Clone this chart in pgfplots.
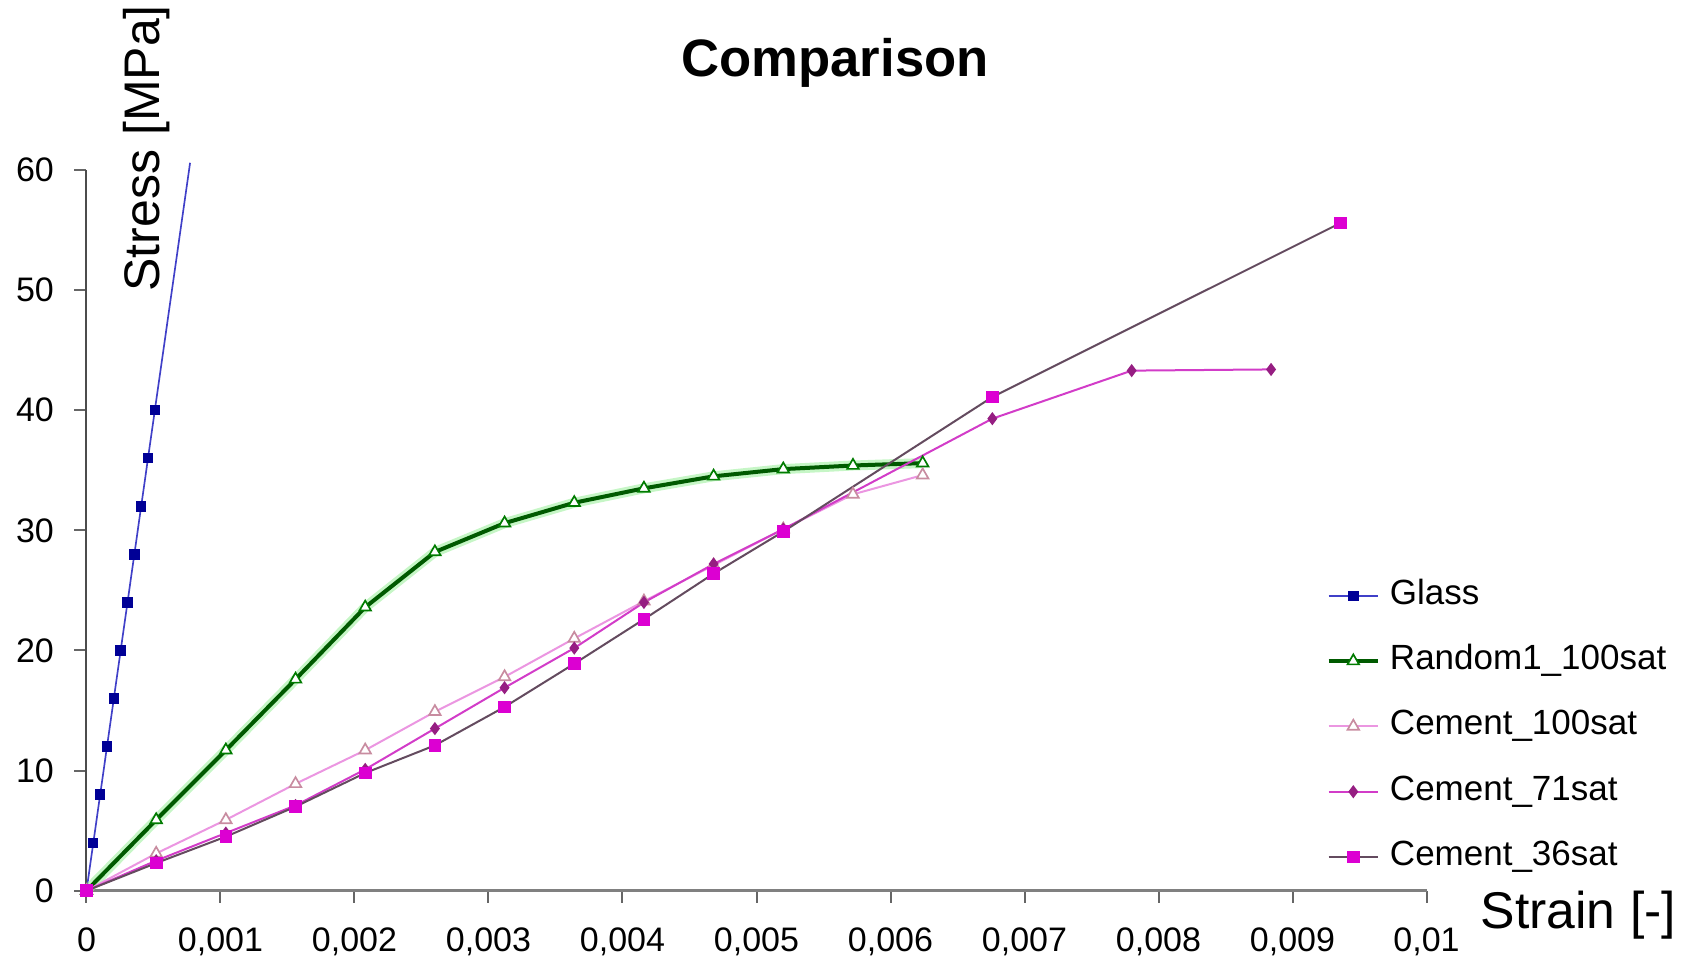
\documentclass[border=0pt]{standalone}
\usepackage{fontspec}
\setmainfont{Liberation Sans}
\usepackage{pgfplots}
\pgfplotsset{compat=1.18}
\definecolor{glassline}{RGB}{64,64,200}
\definecolor{glassmark}{RGB}{0,0,150}
\definecolor{randline}{RGB}{0,90,0}
\definecolor{randhalo}{RGB}{160,240,160}
\definecolor{chundredline}{RGB}{235,150,225}
\definecolor{chundredmark}{RGB}{200,140,160}
\definecolor{cseventyline}{RGB}{210,60,200}
\definecolor{cseventymark}{RGB}{150,30,130}
\definecolor{cthirtyline}{RGB}{100,75,95}
\definecolor{cthirtymark}{RGB}{220,0,210}
\begin{document}
\begin{tikzpicture}
\path[use as bounding box] (-25.95pt,-20.49pt) rectangle (483.15pt,267.21pt);
\begin{axis}[
  scale only axis, width=402pt, height=216.21pt,
  xmin=0, xmax=0.01, ymin=0, ymax=60,
  axis x line*=bottom, axis y line*=left,
  axis line style={-},
  x axis line style={draw=black!50, line width=0.9pt},
  y axis line style={draw=black!70, line width=0.6pt},
  clip=false,
  xtick={0,0.001,0.002,0.003,0.004,0.005,0.006,0.007,0.008,0.009,0.01},
  xticklabels={0,{0,001},{0,002},{0,003},{0,004},{0,005},{0,006},{0,007},{0,008},{0,009},{0,01}},
  ytick={0,10,20,30,40,50,60},
  scaled x ticks=false,
  tick align=outside, major tick length=3.6pt,
  tick style={draw=black!60, line width=0.6pt},
  /pgf/number format/assume math mode=true,
  ticklabel style={font=\fontsize{10.2}{11}\selectfont, inner sep=0pt},
  xticklabel style={anchor=north, yshift=-7.3pt},
  yticklabel style={anchor=east, xshift=-6pt},
  legend cell align=left,
  legend image code/.code={\draw[mark repeat=2,mark phase=2] plot coordinates {(0cm,0cm) (0.26cm,0cm) (0.52cm,0cm)};},
  legend style={at={(axis cs:0.009255,25.81)}, anchor=north west, draw=none, fill=none, inner sep=0pt, outer sep=0pt,
    row sep=10.6pt, column sep=3pt,
    nodes={inner sep=0pt, text height=7pt, text depth=2pt, font=\fontsize{10.5}{11}\selectfont}},
]
% Glass
\addplot[color=glassline, line width=0.5pt, mark=square*, mark size=1.3pt, mark options={fill=glassmark, draw=glassmark}]
  coordinates {(0,0) (0.000051,4) (0.000102,8) (0.000153,12) (0.000204,16) (0.000255,20) (0.000306,24) (0.000357,28) (0.000408,32) (0.000459,36) (0.00051,40)};
\addlegendentry{Glass}
\addplot[forget plot, color=glassline, line width=0.5pt] coordinates {(0.00051,40) (0.000773,60.6)};
% Random halo
\addplot[forget plot, color=randhalo, line width=3pt, opacity=0.6]
  coordinates {(0,0) (0.00052,5.9) (0.00104,11.7) (0.00156,17.6) (0.00208,23.6) (0.0026,28.2) (0.00312,30.6) (0.00364,32.3) (0.00416,33.5) (0.00468,34.5) (0.0052,35.1) (0.00572,35.4) (0.00624,35.6)};
\addplot[color=randline, line width=1.2pt, mark=triangle*, mark size=2pt, mark options={fill=white, draw=randline!80!green, line width=0.5pt}]
  coordinates {(0,0) (0.00052,5.9) (0.00104,11.7) (0.00156,17.6) (0.00208,23.6) (0.0026,28.2) (0.00312,30.6) (0.00364,32.3) (0.00416,33.5) (0.00468,34.5) (0.0052,35.1) (0.00572,35.4) (0.00624,35.6)};
\addlegendentry{Random1\_100sat}
% Cement 100
\addplot[color=chundredline, line width=0.6pt, mark=triangle*, mark size=2pt, mark options={fill=white, draw=chundredmark, line width=0.5pt}]
  coordinates {(0,0) (0.00052,3.1) (0.00104,5.9) (0.00156,8.9) (0.00208,11.7) (0.0026,14.9) (0.00312,17.8) (0.00364,21.0) (0.00416,24.1) (0.00468,27.1) (0.0052,30.1) (0.00572,33.0) (0.00624,34.6)};
\addlegendentry{Cement\_100sat}
% Cement 71
\addplot[color=cseventyline, line width=0.6pt, mark=diamond*, mark size=1.5pt, mark options={fill=cseventymark, draw=cseventymark}]
  coordinates {(0,0) (0.00052,2.5) (0.00104,4.8) (0.00156,7.1) (0.00208,10.1) (0.0026,13.5) (0.00312,16.9) (0.00364,20.2) (0.00416,24.0) (0.00468,27.2) (0.0052,30.1) (0.00676,39.3) (0.0078,43.3) (0.00884,43.4)};
\addlegendentry{Cement\_71sat}
% Cement 36
\addplot[color=cthirtyline, line width=0.6pt, mark=square*, mark size=1.6pt, mark options={fill=cthirtymark, draw=cthirtymark}]
  coordinates {(0,0) (0.00052,2.3) (0.00104,4.5) (0.00156,7.0) (0.00208,9.8) (0.0026,12.1) (0.00312,15.3) (0.00364,18.9) (0.00416,22.6) (0.00468,26.4) (0.0052,29.9) (0.00676,41.1) (0.00936,55.6)};
\addlegendentry{Cement\_36sat}
% texts
\node[font=\fontsize{15.8}{16}\selectfont\bfseries, anchor=base] at (axis cs:0.005586,67.77) {Comparison};
\node[font=\fontsize{15}{16}\selectfont, rotate=90, anchor=base west, inner sep=0pt] at (axis cs:0.000545,49.84) {Stress [MPa]};
\node[font=\fontsize{15.5}{16}\selectfont, anchor=base west, inner sep=0pt] at (axis cs:0.0104,-3.13) {Strain [-]};
\end{axis}
\end{tikzpicture}
\end{document}
